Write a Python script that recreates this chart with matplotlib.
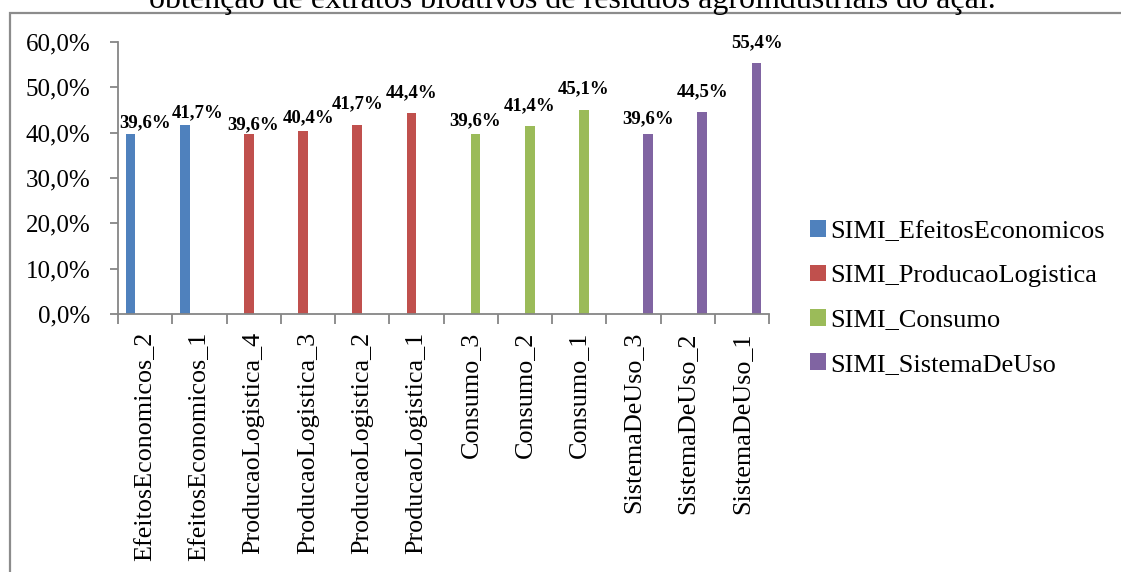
import matplotlib
matplotlib.use("Agg")
import matplotlib.pyplot as plt
from matplotlib.patches import Rectangle

# Categories, grouped by dimension
categories = [
    "EfeitosEconomicos_2", "EfeitosEconomicos_1",
    "ProducaoLogistica_4", "ProducaoLogistica_3", "ProducaoLogistica_2", "ProducaoLogistica_1",
    "Consumo_3", "Consumo_2", "Consumo_1",
    "SistemaDeUso_3", "SistemaDeUso_2", "SistemaDeUso_1",
]
series_names = ["SIMI_EfeitosEconomicos", "SIMI_ProducaoLogistica", "SIMI_Consumo", "SIMI_SistemaDeUso"]
# Value (%) of each category and the series it belongs to
values = [39.6, 41.7, 39.6, 40.4, 41.7, 44.4, 39.6, 41.4, 45.1, 39.6, 44.5, 55.4]
series_of = [0, 0, 1, 1, 1, 1, 2, 2, 2, 3, 3, 3]
title_text = "obtenção de extratos bioativos de resíduos agroindustriais do açaí."

colors = ["#4F81BD", "#C0504D", "#9BBB59", "#8064A2"]
# label nudges (pixels): horizontal shift and gap above the bar
label_dx = [15, 13, 4, 6, 0, 0, 0, 0, 0, 0, 0, 0]
label_gap = [7, 8, 5, 9, 17, 15, 9, 16, 16, 11, 16, 16]

W, H, DPI = 1121, 572, 100
plt.rcParams["font.family"] = ["Liberation Serif", "DejaVu Serif"]
fig = plt.figure(figsize=(W / DPI, H / DPI), dpi=DPI)
fig.patch.set_facecolor("white")

# outer frame
fig.add_artist(Rectangle((10 / W, -0.1), 1.2, 1 - 12.5 / H + 0.1, transform=fig.transFigure,
                         fill=False, edgecolor="#8C8C8C", linewidth=1.6))
fig.text(572 / W, 1 - 8 / H, title_text, ha="center", va="baseline", fontsize=23, color="black")

ax = fig.add_axes([118 / W, 1 - 314 / H, (769 - 118) / W, (314 - 42) / H])
bw = 0.18
n = len(series_names)
for i, (v, s) in enumerate(zip(values, series_of)):
    x = i + (s - (n - 1) / 2) * bw
    ax.bar(x, v, width=bw, color=colors[s], edgecolor="none")
    ax.annotate(f"{v:.1f}%".replace(".", ","), xy=(x, v),
                xytext=(label_dx[i] * 72 / DPI, label_gap[i] * 72 / DPI), textcoords="offset points",
                ha="center", va="baseline", fontsize=13.5, fontweight="bold")

ax.set_xlim(-0.5, len(categories) - 0.5)
ax.set_ylim(0, 60)
ax.set_yticks(range(0, 61, 10))
ax.set_yticklabels([f"{t},0%" for t in range(0, 61, 10)], fontsize=18)
ax.set_xticks(range(len(categories)))
ax.set_xticklabels(categories, rotation=90, fontsize=18.8)
ax.set_xticks([i - 0.5 for i in range(len(categories) + 1)], minor=True)
ax.tick_params(axis="x", which="major", length=0, pad=13)
ax.tick_params(axis="x", which="minor", length=7, width=1.3, color="#868686", direction="out")
ax.tick_params(axis="y", length=6, width=1.3, color="#868686", direction="out", pad=14)
for side in ("top", "right"):
    ax.spines[side].set_visible(False)
for side in ("left", "bottom"):
    ax.spines[side].set_color("#868686")
    ax.spines[side].set_linewidth(1.3)

handles = [Rectangle((0, 0), 1, 1, facecolor=c, edgecolor="none") for c in colors]
fig.legend(handles, series_names, loc="center left", bbox_to_anchor=(810 / W, 1 - 298 / H),
           frameon=False, fontsize=19, handlelength=0.6, handleheight=0.6,
           handletextpad=0.15, labelspacing=0.82, borderpad=0, borderaxespad=0)

fig.savefig("out.png", dpi=DPI, facecolor="white")
